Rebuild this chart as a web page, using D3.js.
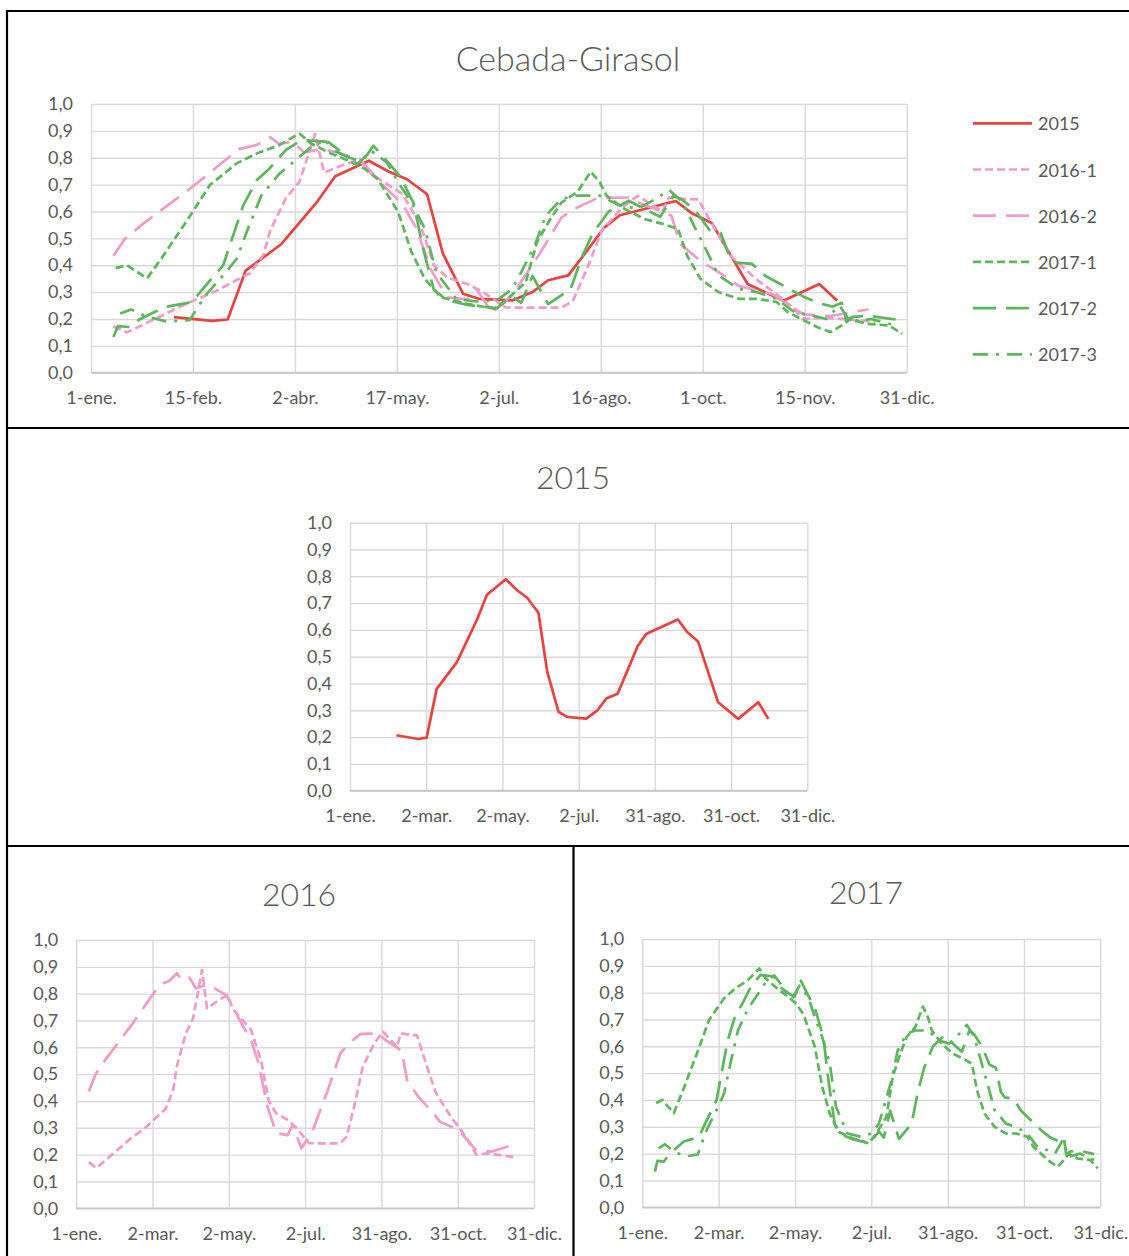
<!DOCTYPE html>
<html>
<head>
<meta charset="utf-8">
<script src="https://cdn.jsdelivr.net/npm/d3@7"></script>
<style>
  body { margin: 0; background: #ffffff; }
  svg { display: block; }
  text { font-family: Lato, "Open Sans", "Noto Sans", sans-serif; fill: #595959; }
</style>
</head>
<body>
<svg id="chart" width="1129" height="1256"></svg>
<script>
// Days counted from 1 January, NDVI value for each date
const dias2015 = [37, 54, 61, 69, 85, 101, 109, 124, 133, 141, 150, 157, 166, 173, 181, 188, 197, 204, 213, 221, 229, 236, 261, 268, 277, 293, 309, 325, 333];
const ndvi2015 = [0.207, 0.193, 0.198, 0.380, 0.479, 0.637, 0.731, 0.789, 0.748, 0.720, 0.664, 0.444, 0.294, 0.275, 0.272, 0.269, 0.300, 0.344, 0.362, 0.450, 0.540, 0.586, 0.639, 0.594, 0.557, 0.330, 0.268, 0.330, 0.268];

const dias2016_1 = [10, 16, 26, 42, 56, 65, 71, 77, 80, 87, 93, 100, 104, 113, 120, 125, 139, 147, 153, 159, 168, 175, 185, 191, 210, 215, 221, 228, 237, 244, 250, 255, 258, 266, 271, 278, 286, 298, 305, 312, 318, 327, 350];
const ndvi2016_1 = [0.172, 0.150, 0.190, 0.255, 0.305, 0.345, 0.370, 0.440, 0.530, 0.650, 0.710, 0.888, 0.745, 0.775, 0.795, 0.740, 0.665, 0.550, 0.400, 0.354, 0.330, 0.300, 0.243, 0.242, 0.242, 0.267, 0.380, 0.530, 0.615, 0.658, 0.627, 0.600, 0.652, 0.646, 0.645, 0.540, 0.430, 0.340, 0.298, 0.250, 0.200, 0.205, 0.190];

const dias2016_2 = [10, 15, 23, 45, 66, 74, 80, 84, 90, 95, 103, 110, 119, 124, 130, 139, 145, 152, 159, 168, 172, 179, 188, 200, 210, 217, 226, 240, 246, 255, 259, 263, 272, 284, 289, 304, 312, 318, 330, 347];
const ndvi2016_2 = [0.435, 0.497, 0.553, 0.690, 0.832, 0.848, 0.876, 0.851, 0.860, 0.820, 0.832, 0.820, 0.795, 0.758, 0.700, 0.627, 0.540, 0.379, 0.280, 0.273, 0.311, 0.224, 0.290, 0.440, 0.578, 0.615, 0.650, 0.652, 0.627, 0.600, 0.584, 0.478, 0.416, 0.354, 0.323, 0.292, 0.248, 0.217, 0.211, 0.236];

const dias2017_1 = [11, 16, 25, 32, 44, 53, 65, 74, 84, 93, 98, 107, 114, 122, 128, 137, 143, 149, 156, 168, 180, 186, 194, 199, 205, 210, 217, 223, 227, 230, 238, 247, 255, 262, 266, 272, 280, 289, 297, 306, 311, 317, 324, 330, 335, 339, 346, 356, 362];
const ndvi2017_1 = [0.389, 0.400, 0.351, 0.432, 0.581, 0.698, 0.779, 0.816, 0.847, 0.890, 0.854, 0.816, 0.792, 0.760, 0.720, 0.600, 0.449, 0.349, 0.281, 0.256, 0.238, 0.275, 0.337, 0.486, 0.572, 0.634, 0.672, 0.748, 0.709, 0.660, 0.610, 0.572, 0.554, 0.535, 0.436, 0.349, 0.300, 0.275, 0.275, 0.263, 0.225, 0.200, 0.170, 0.151, 0.176, 0.200, 0.182, 0.176, 0.145];

const dias2017_2 = [10, 12, 17, 22, 33, 45, 50, 59, 63, 68, 74, 79, 87, 94, 105, 108, 114, 121, 126, 133, 138, 144, 148, 153, 159, 168, 181, 188, 192, 197, 204, 209, 214, 219, 224, 231, 240, 248, 254, 260, 264, 270, 276, 281, 285, 288, 295, 301, 307, 313, 318, 325, 331, 335, 337, 340, 347, 359];
const ndvi2017_2 = [0.133, 0.173, 0.170, 0.200, 0.245, 0.262, 0.313, 0.400, 0.500, 0.624, 0.717, 0.754, 0.829, 0.866, 0.860, 0.829, 0.804, 0.785, 0.845, 0.779, 0.730, 0.630, 0.469, 0.308, 0.270, 0.252, 0.240, 0.283, 0.260, 0.360, 0.255, 0.283, 0.310, 0.430, 0.520, 0.600, 0.640, 0.605, 0.580, 0.660, 0.643, 0.600, 0.531, 0.520, 0.430, 0.410, 0.405, 0.360, 0.333, 0.305, 0.283, 0.258, 0.246, 0.260, 0.196, 0.208, 0.212, 0.198];

const dias2017_3 = [13, 18, 25, 34, 44, 51, 59, 65, 70, 76, 84, 92, 99, 105, 112, 119, 125, 132, 137, 143, 149, 154, 163, 174, 182, 188, 192, 198, 203, 210, 217, 227, 236, 244, 252, 258, 264, 269, 275, 280, 289, 297, 306, 314, 322, 328, 334, 339, 348, 359];
const ndvi2017_3 = [0.220, 0.235, 0.208, 0.190, 0.196, 0.287, 0.362, 0.424, 0.535, 0.659, 0.740, 0.796, 0.845, 0.864, 0.820, 0.777, 0.826, 0.783, 0.709, 0.634, 0.535, 0.374, 0.275, 0.263, 0.275, 0.312, 0.374, 0.473, 0.585, 0.647, 0.659, 0.659, 0.622, 0.610, 0.647, 0.680, 0.634, 0.548, 0.449, 0.362, 0.312, 0.300, 0.275, 0.225, 0.213, 0.200, 0.250, 0.188, 0.200, 0.176];

// Axis labels
const etiquetasAnual8 = ["1-ene.", "15-feb.", "2-abr.", "17-may.", "2-jul.", "16-ago.", "1-oct.", "15-nov.", "31-dic."];
const etiquetasAnual6 = ["1-ene.", "2-mar.", "2-may.", "2-jul.", "31-ago.", "31-oct.", "31-dic."];
const valoresY = [0, 0.1, 0.2, 0.3, 0.4, 0.5, 0.6, 0.7, 0.8, 0.9, 1.0];

const ROJO = "#E8433F", ROSA = "#F09BC8", VERDE = "#5DB65B";

const series = [
  { nombre: "2015",   color: ROJO,  dash: null,         dias: dias2015,   ndvi: ndvi2015 },
  { nombre: "2016-1", color: ROSA,  dash: "8,4",        dias: dias2016_1, ndvi: ndvi2016_1 },
  { nombre: "2016-2", color: ROSA,  dash: "23,10",      dias: dias2016_2, ndvi: ndvi2016_2 },
  { nombre: "2017-1", color: VERDE, dash: "8,4",        dias: dias2017_1, ndvi: ndvi2017_1 },
  { nombre: "2017-2", color: VERDE, dash: "23,10",      dias: dias2017_2, ndvi: ndvi2017_2 },
  { nombre: "2017-3", color: VERDE, dash: "15,8,3,8",   dias: dias2017_3, ndvi: ndvi2017_3 }
];

const locale = d3.formatLocale({ decimal: ",", thousands: ".", grouping: [3], currency: ["", " €"] });
const fmt = locale.format(".1f");

const svg = d3.select("#chart");
const DIAS_ANO = 364;

function panel(cfg) {
  const x = d3.scaleLinear().domain([0, DIAS_ANO]).range([cfg.x0, cfg.x1]);
  const y = d3.scaleLinear().domain([0, 1]).range([cfg.y1, cfg.y0]);
  const n = cfg.etiquetas.length - 1;
  const ticksX = d3.range(n + 1).map(i => i * DIAS_ANO / n);
  const g = svg.append("g");

  // horizontal grid + y labels
  const ejeY = g.append("g")
    .attr("transform", `translate(${cfg.x0},0)`)
    .call(d3.axisLeft(y).tickValues(valoresY).tickFormat(fmt)
      .tickSize(-(cfg.x1 - cfg.x0)).tickPadding(18));
  ejeY.select(".domain").remove();
  ejeY.selectAll("line").attr("stroke", "#D9D9D9").attr("stroke-width", 1.4);
  ejeY.selectAll("text").attr("font-size", 18).attr("fill", "#595959");

  // vertical grid + x labels
  const ejeX = g.append("g")
    .attr("transform", `translate(0,${cfg.y1})`)
    .call(d3.axisBottom(x).tickValues(ticksX).tickFormat((d, i) => cfg.etiquetas[i])
      .tickSize(-(cfg.y1 - cfg.y0)).tickPadding(19));
  ejeX.select(".domain").remove();
  ejeX.selectAll("line").attr("stroke", "#D9D9D9").attr("stroke-width", 1.4);
  ejeX.selectAll("text").attr("font-size", 18).attr("fill", "#595959");

  // baseline of the category axis
  g.append("line")
    .attr("x1", cfg.x0).attr("x2", cfg.x1)
    .attr("y1", y(0)).attr("y2", y(0))
    .attr("stroke", "#C8C8C8").attr("stroke-width", 1.8);

  const linea = d3.line().x(d => x(d[0])).y(d => y(d[1]));
  cfg.series.forEach(s => {
    g.append("path")
      .datum(s.dias.map((d, i) => [d, s.ndvi[i]]))
      .attr("d", linea)
      .attr("fill", "none")
      .attr("stroke", s.color)
      .attr("stroke-width", 2.7)
      .attr("stroke-linejoin", "round")
      .attr("stroke-dasharray", s.dash);
  });

  g.append("text")
    .attr("x", cfg.tx).attr("y", cfg.ty)
    .attr("text-anchor", "middle").attr("dominant-baseline", "central")
    .attr("font-size", cfg.tamTitulo).attr("font-weight", 300)
    .attr("fill", "#595959")
    .text(cfg.titulo);
  return g;
}

// Top panel: all series together
panel({ x0: 91, x1: 906.7, y0: 104, y1: 372.7, etiquetas: etiquetasAnual8,
        titulo: "Cebada-Girasol", tamTitulo: 34, tx: 568, ty: 57, series: series });

// Legend of the top panel
const leyenda = svg.append("g");
series.forEach((s, i) => {
  const yy = 123.3 + i * 46.2;
  leyenda.append("line")
    .attr("x1", 973).attr("x2", 1032).attr("y1", yy).attr("y2", yy)
    .attr("stroke", s.color).attr("stroke-width", 2.7)
    .attr("stroke-dasharray", s.dash);
  leyenda.append("text")
    .attr("x", 1038).attr("y", yy)
    .attr("dominant-baseline", "central")
    .attr("font-size", 18)
    .text(s.nombre);
});

// 2015 panel
panel({ x0: 350, x1: 807.3, y0: 522.7, y1: 790.7, etiquetas: etiquetasAnual6,
        titulo: "2015", tamTitulo: 32, tx: 573, ty: 476, series: series.slice(0, 1) });

// 2016 panel
panel({ x0: 76.3, x1: 534, y0: 940, y1: 1208.3, etiquetas: etiquetasAnual6,
        titulo: "2016", tamTitulo: 32, tx: 299, ty: 893, series: series.slice(1, 3) });

// 2017 panel
panel({ x0: 642.3, x1: 1100.3, y0: 939, y1: 1207.3, etiquetas: etiquetasAnual6,
        titulo: "2017", tamTitulo: 32, tx: 866, ty: 891, series: series.slice(3, 6) });

// Frames separating the panels
const marcos = svg.append("g").attr("stroke", "#000").attr("stroke-width", 2.2).attr("fill", "none");
marcos.append("line").attr("x1", 7).attr("x2", 1129).attr("y1", 11).attr("y2", 11);
marcos.append("line").attr("x1", 7).attr("x2", 7).attr("y1", 10).attr("y2", 1256);
marcos.append("line").attr("x1", 7).attr("x2", 1129).attr("y1", 428).attr("y2", 428);
marcos.append("line").attr("x1", 7).attr("x2", 1129).attr("y1", 846).attr("y2", 846);
marcos.append("line").attr("x1", 573.5).attr("x2", 573.5).attr("y1", 846).attr("y2", 1256);
</script>
</body>
</html>
